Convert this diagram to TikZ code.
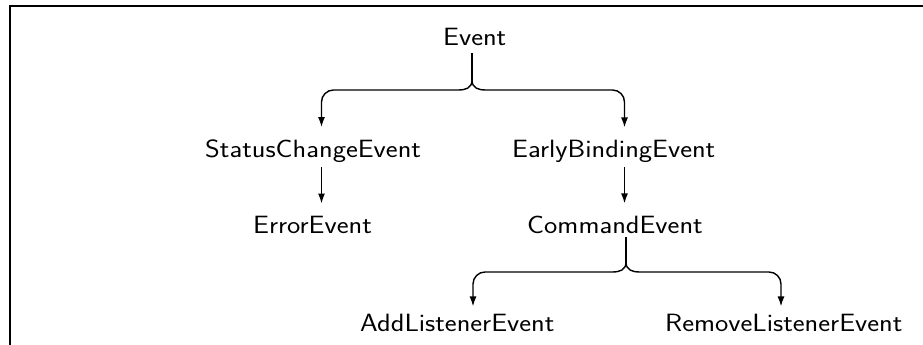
\documentclass[tikz,border=0pt]{standalone}
\usepackage{fontspec}
\usepackage{graphicx}
\usetikzlibrary{arrows.meta,calc}
\newcommand{\clsname}[1]{\scalebox{1.13}[1]{#1}}
\begin{document}
\begin{tikzpicture}[x=1pt,y=-1pt,
  cls/.style={anchor=base west,inner sep=0pt,font=\sffamily\fontsize{25}{30}\selectfont},
  wire/.style={line width=1.4pt},
  arr/.style={wire,-{Latex[length=10pt,width=7pt]}},
  frame/.style={line width=1.5pt}]
  \useasboundingbox (0,0) rectangle (923,345);
  % open frame: top and left edges
  \draw[frame] (923,6) -- (10,6) -- (10,345);

  % class names
  \node[cls] (ev)  at (443,46)  {\clsname{Event}};
  \node[cls] (sc)  at (205,157) {\clsname{StatusChangeEvent}};
  \node[cls] (eb)  at (512,157) {\clsname{EarlyBindingEvent}};
  \node[cls] (er)  at (253,233) {\clsname{ErrorEvent}};
  \node[cls] (ce)  at (527,233) {\clsname{CommandEvent}};
  \node[cls] (al)  at (360,331) {\clsname{AddListenerEvent}};
  \node[cls] (rl)  at (665,331) {\clsname{RemoveListenerEvent}};

  % columns of the vertical connector runs
  \coordinate (xev) at (472,0);
  \coordinate (xsc) at (321.5,0);
  \coordinate (xeb) at (624.5,0);
  \coordinate (xce) at (626,0);
  \coordinate (xal) at (473,0);
  \coordinate (xrl) at (781,0);
  % levels of the horizontal brace arms
  \coordinate (h1) at (0,90);
  \coordinate (h2) at (0,272);
  % branch points of the two braces
  \coordinate (t1) at (472,80);
  \coordinate (t2) at (626,262);

  % Event -> StatusChangeEvent / EarlyBindingEvent
  \draw[wire] ($(ev.south -| xev)+(0,7)$) -- (t1);
  \draw[arr] (t1) .. controls +(0,8) and +(8,0) .. ++(-14,10)
     [rounded corners=12pt] -- (xsc |- h1) -- ($(sc.north -| xsc)+(0,-12)$);
  \draw[arr] (t1) .. controls +(0,8) and +(-8,0) .. ++(14,10)
     [rounded corners=12pt] -- (xeb |- h1) -- ($(eb.north -| xeb)+(0,-12)$);

  % single links
  \draw[arr] ($(sc.south -| xsc)+(0,5)$) -- ($(er.north -| xsc)+(0,-12)$);
  \draw[arr] ($(eb.south -| xeb)+(0,5)$) -- ($(ce.north -| xeb)+(0,-12)$);

  % CommandEvent -> AddListenerEvent / RemoveListenerEvent
  \draw[wire] ($(ce.south -| xce)+(0,4)$) -- (t2);
  \draw[arr] (t2) .. controls +(0,8) and +(8,0) .. ++(-14,10)
     [rounded corners=12pt] -- (xal |- h2) -- ($(al.north -| xal)+(0,-7)$);
  \draw[arr] (t2) .. controls +(0,8) and +(-8,0) .. ++(14,10)
     [rounded corners=12pt] -- (xrl |- h2) -- ($(rl.north -| xrl)+(0,-7)$);
\end{tikzpicture}
\end{document}
